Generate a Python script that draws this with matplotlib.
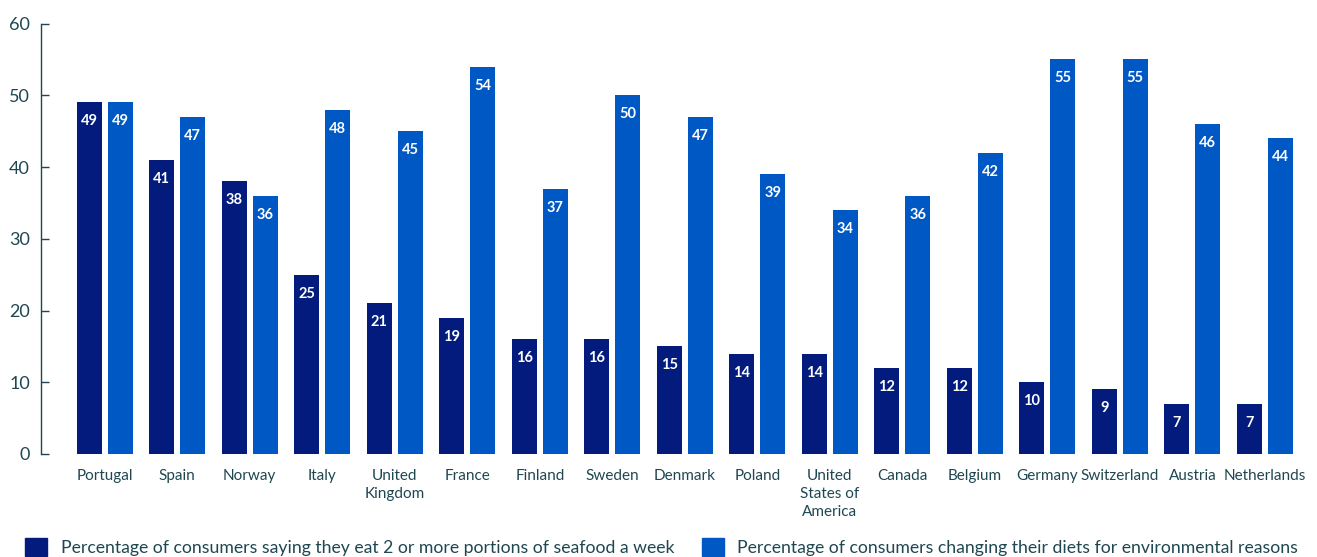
import matplotlib
matplotlib.use("Agg")
import matplotlib.pyplot as plt
from matplotlib.patches import Patch
import numpy as np

countries = ["Portugal", "Spain", "Norway", "Italy", "United\nKingdom", "France",
             "Finland", "Sweden", "Denmark", "Poland", "United\nStates of\nAmerica",
             "Canada", "Belgium", "Germany", "Switzerland", "Austria", "Netherlands"]
seafood = [49, 41, 38, 25, 21, 19, 16, 16, 15, 14, 14, 12, 12, 10, 9, 7, 7]
diet_change = [49, 47, 36, 48, 45, 54, 37, 50, 47, 39, 34, 36, 42, 55, 55, 46, 44]
series_labels = ["Percentage of consumers saying they eat 2 or more portions of seafood a week",
                 "Percentage of consumers changing their diets for environmental reasons"]
yticks = [0, 10, 20, 30, 40, 50, 60]

DARK = "#021b7c"
LIGHT = "#0058c4"
TEXT = "#1e4751"

plt.rcParams["font.family"] = ["Lato", "DejaVu Sans"]

W, H = 1317, 557
fig = plt.figure(figsize=(W / 100, H / 100), dpi=100)
ax = fig.add_axes([41 / W, 103 / H, (1312 - 41) / W, 430.5 / H])

x = np.arange(len(countries))
bw = 0.344
off = 0.213
b1 = ax.bar(x - off, seafood, bw, color=DARK)
b2 = ax.bar(x + off, diet_change, bw, color=LIGHT)

for bars, vals in ((b1, seafood), (b2, diet_change)):
    for rect, v in zip(bars, vals):
        ax.annotate(str(v), (rect.get_x() + rect.get_width() / 2, v),
                    xytext=(0, -13.7), textcoords="offset points",
                    ha="center", va="center", color="white",
                    fontsize=10.5, fontweight="bold")

ax.set_xlim(-0.88, 16.65)
ax.set_ylim(0, 60)
ax.set_yticks(yticks)
ax.set_xticks(x)
ax.set_xticklabels(countries, fontsize=11, color=TEXT, linespacing=1.33, va="top")
ax.tick_params(axis="x", length=0, pad=11)
ax.tick_params(axis="y", direction="in", length=6, width=1, color=TEXT,
               labelsize=13, labelcolor=TEXT, pad=8)
for s in ("top", "right", "bottom"):
    ax.spines[s].set_visible(False)
ax.spines["left"].set_color(TEXT)
ax.spines["left"].set_linewidth(1)

handles = [Patch(color=DARK), Patch(color=LIGHT)]
leg = fig.legend(handles, series_labels, loc="center left", ncol=2,
                 bbox_to_anchor=(25 / W, 10 / H), frameon=False,
                 handlelength=1.25, handleheight=1.25, handletextpad=0.78,
                 columnspacing=1.55, fontsize=12.7, borderaxespad=0, borderpad=0)
for t in leg.get_texts():
    t.set_color(TEXT)

fig.savefig("out.png", dpi=100)
